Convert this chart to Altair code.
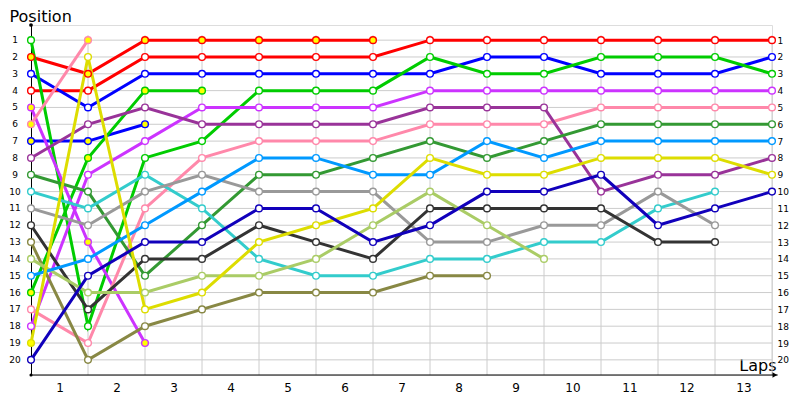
import altair as alt
import pandas as pd

# ---------------- data ----------------
laps = list(range(14))              # lap 0 = start grid
positions = list(range(1, 21))
lap_label_values = [i + 0.5 for i in range(13)]   # labels 1..13 sit between gridlines

drivers = ["Red A", "Red B", "Blue A", "Blue B", "Green A", "Green B",
           "Magenta A", "Magenta B", "Pink A", "Pink B", "Purple",
           "Dark green", "Cyan", "Grey", "Black", "Olive",
           "Light green", "Light blue", "Yellow", "Dark blue"]

red_a = [2, 3, 1, 1, 1, 1, 1]
red_b = [4, 4, 2, 2, 2, 2, 2, 1, 1, 1, 1, 1, 1, 1]
blue_a = [3, 5, 3, 3, 3, 3, 3, 3, 2, 2, 3, 3, 3, 2]
blue_b = [7, 7, 6]
green_a = [1, 18, 8, 7, 4, 4, 4, 2, 3, 3, 2, 2, 2, 3]
green_b = [16, 8, 4, 4]
magenta_a = [5, 13, 19]
magenta_b = [18, 9, 7, 5, 5, 5, 5, 4, 4, 4, 4, 4, 4, 4]
pink_a = [6, 1]
pink_b = [17, 19, 11, 8, 7, 7, 7, 6, 6, 6, 5, 5, 5, 5]
purple = [8, 6, 5, 6, 6, 6, 6, 5, 5, 5, 10, 9, 9, 8]
dark_green = [9, 10, 15, 12, 9, 9, 8, 7, 8, 7, 6, 6, 6, 6]
cyan = [10, 11, 9, 11, 14, 15, 15, 14, 14, 13, 13, 11, 10]
grey = [11, 12, 10, 9, 10, 10, 10, 13, 13, 12, 12, 10, 12]
black = [12, 17, 14, 14, 12, 13, 14, 11, 11, 11, 11, 13, 13]
olive = [13, 20, 18, 17, 16, 16, 16, 15, 15]
light_green = [14, 16, 16, 15, 15, 14, 12, 10, 12, 14]
light_blue = [15, 14, 12, 10, 8, 8, 9, 9, 7, 8, 7, 7, 7, 7]
yellow = [19, 2, 17, 16, 13, 12, 11, 8, 9, 9, 8, 8, 8, 9]
dark_blue = [20, 15, 13, 13, 11, 11, 13, 12, 10, 10, 9, 12, 11, 10]

series = [red_a, red_b, blue_a, blue_b, green_a, green_b, magenta_a, magenta_b,
          pink_a, pink_b, purple, dark_green, cyan, grey, black, olive,
          light_green, light_blue, yellow, dark_blue]

# drivers whose markers are highlighted (filled yellow)
highlighted_drivers = ["Red A", "Blue B", "Green B", "Magenta A", "Pink A"]
highlighted_points = [("Yellow", 0)]

colors = ["#ff0000", "#ff0000", "#0000ff", "#0000ff", "#00cc00", "#00cc00",
          "#cc33ff", "#cc33ff", "#ff88aa", "#ff88aa", "#993399",
          "#339933", "#33cccc", "#999999", "#333333", "#888844",
          "#aacc66", "#0099ff", "#dddd00", "#1100bb"]

rows = []
for name, vals in zip(drivers, series):
    for lap, p in zip(laps, vals):
        hl = name in highlighted_drivers or (name, lap) in highlighted_points
        rows.append({"driver": name, "lap": lap, "pos": p, "hl": hl})
df = pd.DataFrame(rows)

df_laps = pd.DataFrame({"lap": laps[1:]})
df_pos = pd.DataFrame({"pos": positions})

FONT = "DejaVu Sans"
GRID = "#cccccc"

xscale = alt.Scale(domain=[0, 13], nice=False, zero=False)
yscale = alt.Scale(domain=[0.1, 20.9], reverse=True, nice=False, zero=False)
cscale = alt.Scale(domain=drivers, range=colors)

# horizontal gridlines + right axis (independent y, same mapping)
hgrid = alt.Chart(df_pos).mark_rule(color=GRID, strokeWidth=1).encode(
    y=alt.Y("pos:Q", scale=yscale,
            axis=alt.Axis(orient="right", values=positions, domain=False, ticks=False,
                          grid=False, labelPadding=5, labelAlign="left",
                          labelOverlap=False, labelFlush=False,
                          labelFont=FONT, labelFontSize=9, labelColor="#000000",
                          title=None)),
    x=alt.datum(0),
    x2=alt.datum(13),
)

vgrid = alt.Chart(df_laps).mark_rule(color=GRID, strokeWidth=1).encode(
    x=alt.X("lap:Q", scale=xscale,
            axis=alt.Axis(orient="bottom", values=lap_label_values,
                          labelExpr="datum.value + 0.5", domain=False, ticks=False,
                          grid=False, labelPadding=7, labelFont=FONT, labelFontSize=12,
                          labelOverlap=False, labelFlush=False,
                          labelColor="#000000", title="Laps", titleFont=FONT,
                          titleFontSize=16, titleFontWeight="normal", titleColor="#000000",
                          titleAlign="right", titleBaseline="alphabetic",
                          titleX=745, titleY=-5)),
    y=alt.datum(0.7),
    y2=alt.datum(20.9),
)

left_axis = alt.Axis(orient="left", values=positions, ticks=False, tickSize=0,
                     grid=False, domain=True, domainColor="#000000", domainWidth=1,
                     labels=False,
                     title="Position", titleAngle=0, titleFont=FONT,
                     titleFontSize=16, titleFontWeight="normal", titleColor="#000000",
                     titleAlign="left", titleBaseline="alphabetic",
                     titleX=-22, titleY=-4)

lines = alt.Chart(df).mark_line(strokeWidth=3).encode(
    x=alt.X("lap:Q", scale=xscale),
    y=alt.Y("pos:Q", scale=yscale, axis=left_axis),
    color=alt.Color("driver:N", scale=cscale, legend=None),
    detail="driver:N",
    order="lap:Q",
)

points = alt.Chart(df).transform_calculate(
    fillc="datum.hl ? '#ffff00' : '#ffffff'"
).mark_point(shape="circle", filled=True, size=45, strokeWidth=1.4, opacity=1).encode(
    x=alt.X("lap:Q", scale=xscale),
    y=alt.Y("pos:Q", scale=yscale, axis=left_axis),
    fill=alt.Fill("fillc:N", scale=None),
    stroke=alt.Stroke("driver:N", scale=cscale, legend=None),
)

# left position labels
left_labels = alt.Chart(df_pos).mark_text(
    font=FONT, fontSize=9, color="#000000", align="center", baseline="middle", dx=-16
).encode(x=alt.datum(0), y=alt.Y("pos:Q", scale=yscale), text="pos:Q")

# axis decorations: bottom axis line with arrow, dots at ends of left axis
base_axis = alt.Chart(df_pos.head(1)).mark_rule(color="#000000", strokeWidth=1.2).encode(
    x=alt.datum(0), x2=alt.datum(13.1), y=alt.datum(20.9)
)
arrow = alt.Chart(df_pos.head(1)).mark_point(
    shape="triangle-right", filled=True, color="#000000", size=30, opacity=1
).encode(x=alt.datum(13.05), y=alt.datum(20.9))
dot_top = alt.Chart(df_pos.head(1)).mark_point(
    shape="circle", filled=True, color="#000000", size=14, opacity=1
).encode(x=alt.datum(0), y=alt.datum(0.1))
dot_bot = alt.Chart(df_pos.head(1)).mark_point(
    shape="circle", filled=True, color="#000000", size=10, opacity=1
).encode(x=alt.datum(0), y=alt.datum(20.9))

main = alt.layer(vgrid, lines, points, left_labels, base_axis, arrow, dot_top, dot_bot)

chart = alt.layer(hgrid, main).resolve_scale(y="independent").properties(
    width=741, height=350,
    padding={"left": 23, "top": 17, "right": 20, "bottom": 20},
    autosize=alt.AutoSizeParams(type="none"),
).configure_view(stroke=None).configure_axis(
    labelOverlap=False, labelFlush=False
).configure(background="#ffffff")

chart.save("out.html", embed_options={"renderer": "svg", "actions": False})
